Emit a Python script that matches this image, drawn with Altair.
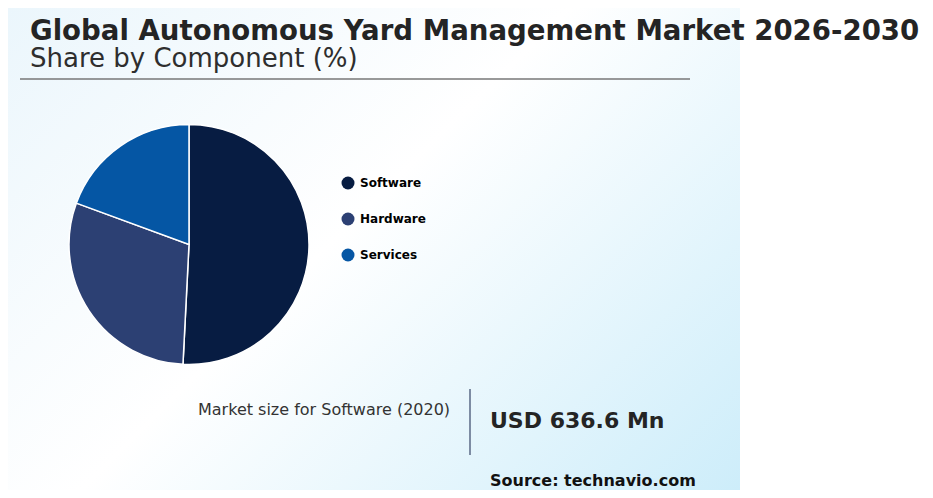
import altair as alt
import pandas as pd

# ---- data ----
categories = ["Software", "Hardware", "Services"]
shares = [50.8, 29.8, 19.4]
slice_order = [1, 2, 3]
colors = ["#071c42", "#2c4073", "#0556a4"]

title_text = ["Global Autonomous Yard Management Market 2026-2030"]
subtitle_text = ["Share by Component (%)"]
kpi_label = ["Market size for Software (2020)"]
kpi_value = ["USD 636.6 Mn"]
source_text = ["Source: technavio.com"]

FONT = "DejaVu Sans"

pie_df = pd.DataFrame({"Component": categories, "Share": shares, "ord": slice_order})

bg = alt.Chart(alt.Data(values=[{"a": 1}])).mark_rect(
    fill=alt.LinearGradient(
        gradient="linear",
        stops=[
            alt.GradientStop(color="#ebf6fc", offset=0),
            alt.GradientStop(color="#ffffff", offset=0.46),
            alt.GradientStop(color="#cdedfa", offset=1),
        ],
        x1=0, y1=0, x2=1.1526, y2=0.7725,
    ),
    strokeWidth=0,
).encode(x=alt.value(0), x2=alt.value(732), y=alt.value(0), y2=alt.value(482))

pie = alt.Chart(pie_df).mark_arc(
    outerRadius=120, stroke="white", strokeWidth=1.5
).encode(
    theta=alt.Theta("Share:Q", stack=True),
    order=alt.Order("ord:Q"),
    color=alt.Color(
        "Component:N",
        scale=alt.Scale(domain=categories, range=colors),
        legend=alt.Legend(
            title=None,
            orient="none",
            legendX=333.5,
            legendY=168.5,
            symbolType="circle",
            symbolSize=169,
            symbolStrokeWidth=0,
            labelFont=FONT,
            labelFontSize=12,
            labelFontWeight="bold",
            labelColor="#000000",
            labelOffset=5.5,
            rowPadding=23,
            padding=0,
        ),
    ),
    x=alt.value(181),
    y=alt.value(236.5),
)

def txt(values, x, y, size, weight, color):
    return alt.Chart(alt.Data(values=[{"t": v} for v in values])).mark_text(
        x=x, y=y, align="left", baseline="alphabetic", font=FONT,
        fontSize=size, fontWeight=weight, color=color,
    ).encode(text="t:N")

title = txt(title_text, 22, 32, 27.6, "bold", "#242424")
subtitle = txt(subtitle_text, 22, 59, 26, "normal", "#2e2e2e")
kpi_l = txt(kpi_label, 190, 407, 16, "normal", "#333333")
kpi_v = txt(kpi_value, 482, 420, 22, "bold", "#242424")
source = txt(source_text, 482, 478, 16, "bold", "#111111")

hrule = alt.Chart(alt.Data(values=[{"a": 1}])).mark_rule(
    color="#777777", strokeWidth=1.5
).encode(x=alt.value(12), x2=alt.value(682), y=alt.value(71))

vrule = alt.Chart(alt.Data(values=[{"a": 1}])).mark_rule(
    color="#7d8ca3", strokeWidth=2
).encode(x=alt.value(462), y=alt.value(381), y2=alt.value(447))

chart = alt.layer(
    bg, hrule, vrule, pie, title, subtitle, kpi_l, kpi_v, source
).properties(
    width=917, height=482, autosize=alt.AutoSizeParams(type="none"), padding=0,
    background="white",
).configure_view(stroke=None)

chart.save("out.html", embed_options={"renderer": "svg", "actions": False})
